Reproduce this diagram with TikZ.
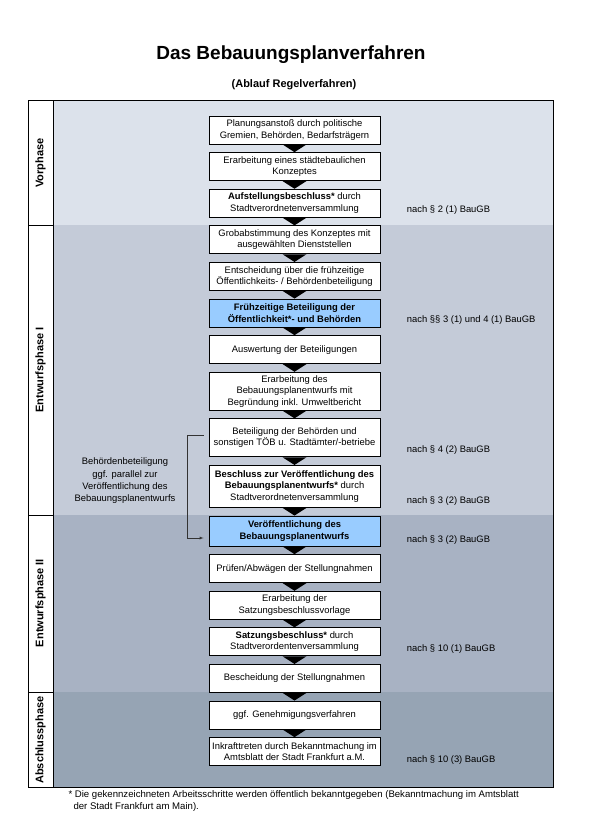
\documentclass[tikz,border=0pt]{standalone}
\usepackage{fontspec}
\setmainfont{Liberation Sans}
\usetikzlibrary{positioning}
\definecolor{vorbg}{RGB}{220,226,235}
\definecolor{entibg}{RGB}{196,203,216}
\definecolor{entiibg}{RGB}{168,178,195}
\definecolor{absbg}{RGB}{150,164,180}
\definecolor{hlblue}{RGB}{153,204,255}
\begin{document}
\begin{tikzpicture}[x=1pt, y=-1pt, node distance={7.7pt}, main/.style = {draw, line width=0.9pt, fill=white, minimum width=171pt, minimum height=28pt, inner sep=1pt, align=center, font=\fontsize{9.4}{11.5}\selectfont}, hl/.style = {main, fill=hlblue, font=\fontsize{9.4}{11.5}\selectfont\bfseries}, law/.style = {anchor=west, font=\fontsize{9.4}{11.5}\selectfont}, phase/.style = {rotate=90, font=\fontsize{11}{13}\selectfont\bfseries}]
            \useasboundingbox (0,0) rectangle (593,840);
            % phase bands
            \fill[vorbg] (53,101) rectangle (553,225);
            \fill[entibg] (53,225) rectangle (553,515);
            \fill[entiibg] (53,515) rectangle (553,692);
            \fill[absbg] (53,692) rectangle (553,787);
            \fill[white] (28,101) rectangle (53,787);
            \draw[line width=1pt] (28,101) rectangle (553,787);
            \draw[line width=1pt] (53,101) -- (53,787);
            \draw[line width=1pt] (28,225) -- (53,225);
            \draw[line width=1pt] (28,515) -- (53,515);
            \draw[line width=1pt] (28,692) -- (53,692);
            \node[phase] (vp) at (40.5,163) {Vorphase};
            \node[phase] (ep1) at (40.5,370) {Entwurfsphase I};
            \node[phase] (ep2) at (40.5,603) {Entwurfsphase II};
            \node[phase] (ap) at (40.5,740) {Abschlussphase};
            % title
            \node[font=\fontsize{19}{22}\selectfont\bfseries] (title) at (291,55) {Das Bebauungsplanverfahren};
            \node[font=\fontsize{11}{13}\selectfont\bfseries] (sub) at (294,85) {(Ablauf Regelverfahren)};
            % steps
            \node[main] (1) at (294.5,130) {Planungsanstoß durch politische\\Gremien, Behörden, Bedarfsträgern};
            \node[main] (2) [below=of 1] {Erarbeitung eines städtebaulichen\\Konzeptes};
            \node[main] (3) [below=of 2] {\textbf{Aufstellungsbeschluss*} durch\\Stadtverordnetenversammlung};
            \node[main] (4) [below=of 3] {Grobabstimmung des Konzeptes mit\\ausgewählten Dienststellen};
            \node[main] (5) [below=of 4] {Entscheidung über die frühzeitige\\Öffentlichkeits- / Behördenbeteiligung};
            \node[hl] (6) [below=of 5] {Frühzeitige Beteiligung der\\Öffentlichkeit*- und Behörden};
            \node[main] (7) [below=of 6] {Auswertung der Beteiligungen};
            \node[main, minimum height=38pt] (8) [below=of 7] {Erarbeitung des\\Bebauungsplanentwurfs mit\\Begründung inkl. Umweltbericht};
            \node[main, minimum height=38pt] (9) [below=of 8] {Beteiligung der Behörden und\\sonstigen TÖB u. Stadtämter/-betriebe};
            \node[main, minimum height=42pt] (10) [below=of 9] {\textbf{Beschluss zur Veröffentlichung des}\\\textbf{Bebauungsplanentwurfs*} durch\\Stadtverordnetenversammlung};
            \node[hl, minimum height=30pt] (11) [below=of 10] {Veröffentlichung des\\Bebauungsplanentwurfs};
            \node[main] (12) [below=of 11] {Prüfen/Abwägen der Stellungnahmen};
            \node[main] (13) [below=of 12] {Erarbeitung der\\Satzungsbeschlussvorlage};
            \node[main] (14) [below=of 13] {\textbf{Satzungsbeschluss*} durch\\Stadtverordentenversammlung};
            \node[main] (15) [below=of 14] {Bescheidung der Stellungnahmen};
            \node[main] (16) [below=of 15] {ggf. Genehmigungsverfahren};
            \node[main] (17) [below=of 16] {Inkrafttreten durch Bekanntmachung im\\Amtsblatt der Stadt Frankfurt a.M.};
            % arrows between steps
            \fill ([xshift=-12pt]1.south) -- ([xshift=12pt]1.south) -- (2.north) -- cycle;
            \fill ([xshift=-12pt]2.south) -- ([xshift=12pt]2.south) -- (3.north) -- cycle;
            \fill ([xshift=-12pt]3.south) -- ([xshift=12pt]3.south) -- (4.north) -- cycle;
            \fill ([xshift=-12pt]4.south) -- ([xshift=12pt]4.south) -- (5.north) -- cycle;
            \fill ([xshift=-12pt]5.south) -- ([xshift=12pt]5.south) -- (6.north) -- cycle;
            \fill ([xshift=-12pt]6.south) -- ([xshift=12pt]6.south) -- (7.north) -- cycle;
            \fill ([xshift=-12pt]7.south) -- ([xshift=12pt]7.south) -- (8.north) -- cycle;
            \fill ([xshift=-12pt]8.south) -- ([xshift=12pt]8.south) -- (9.north) -- cycle;
            \fill ([xshift=-12pt]9.south) -- ([xshift=12pt]9.south) -- (10.north) -- cycle;
            \fill ([xshift=-12pt]10.south) -- ([xshift=12pt]10.south) -- (11.north) -- cycle;
            \fill ([xshift=-12pt]11.south) -- ([xshift=12pt]11.south) -- (12.north) -- cycle;
            \fill ([xshift=-12pt]12.south) -- ([xshift=12pt]12.south) -- (13.north) -- cycle;
            \fill ([xshift=-12pt]13.south) -- ([xshift=12pt]13.south) -- (14.north) -- cycle;
            \fill ([xshift=-12pt]14.south) -- ([xshift=12pt]14.south) -- (15.north) -- cycle;
            \fill ([xshift=-12pt]15.south) -- ([xshift=12pt]15.south) -- (16.north) -- cycle;
            \fill ([xshift=-12pt]16.south) -- ([xshift=12pt]16.south) -- (17.north) -- cycle;
            % legal references
            \node[law] (r3) at ([xshift=23pt, yshift=8pt]3.south east) {nach § 2 (1) BauGB};
            \node[law] (r6) at ([xshift=23pt, yshift=7pt]6.south east) {nach §§ 3 (1) und 4 (1) BauGB};
            \node[law] (r9) at ([xshift=23pt, yshift=7pt]9.south east) {nach § 4 (2) BauGB};
            \node[law] (r10) at ([xshift=23pt, yshift=7pt]10.south east) {nach § 3 (2) BauGB};
            \node[law] (r11) at ([xshift=23pt, yshift=6pt]11.south east) {nach § 3 (2) BauGB};
            \node[law] (r14) at ([xshift=23pt, yshift=7pt]14.south east) {nach § 10 (1) BauGB};
            \node[law] (r17) at ([xshift=23pt, yshift=6pt]17.south east) {nach § 10 (3) BauGB};
            % parallel participation
            \node[align=center, font=\fontsize{9.4}{12.3}\selectfont] (note) at (125,481) {Behördenbeteiligung\\ggf. parallel zur\\Veröffentlichung des\\Bebauungsplanentwurfs};
            \draw[black!80, -latex] ([xshift=-5pt, yshift=2.5pt]9.west) -- ++(-16,0) |- ([xshift=-5pt, yshift=-7pt]11.west);
            % footnote
            \node[anchor=north west, align=left, font=\fontsize{9.6}{11.8}\selectfont] (fn) at (65,787) {* Die gekennzeichneten Arbeitsschritte werden öffentlich bekanntgegeben (Bekanntmachung im Amtsblatt\\\hspace*{5pt}der Stadt Frankfurt am Main).};
        \end{tikzpicture}
\end{document}
